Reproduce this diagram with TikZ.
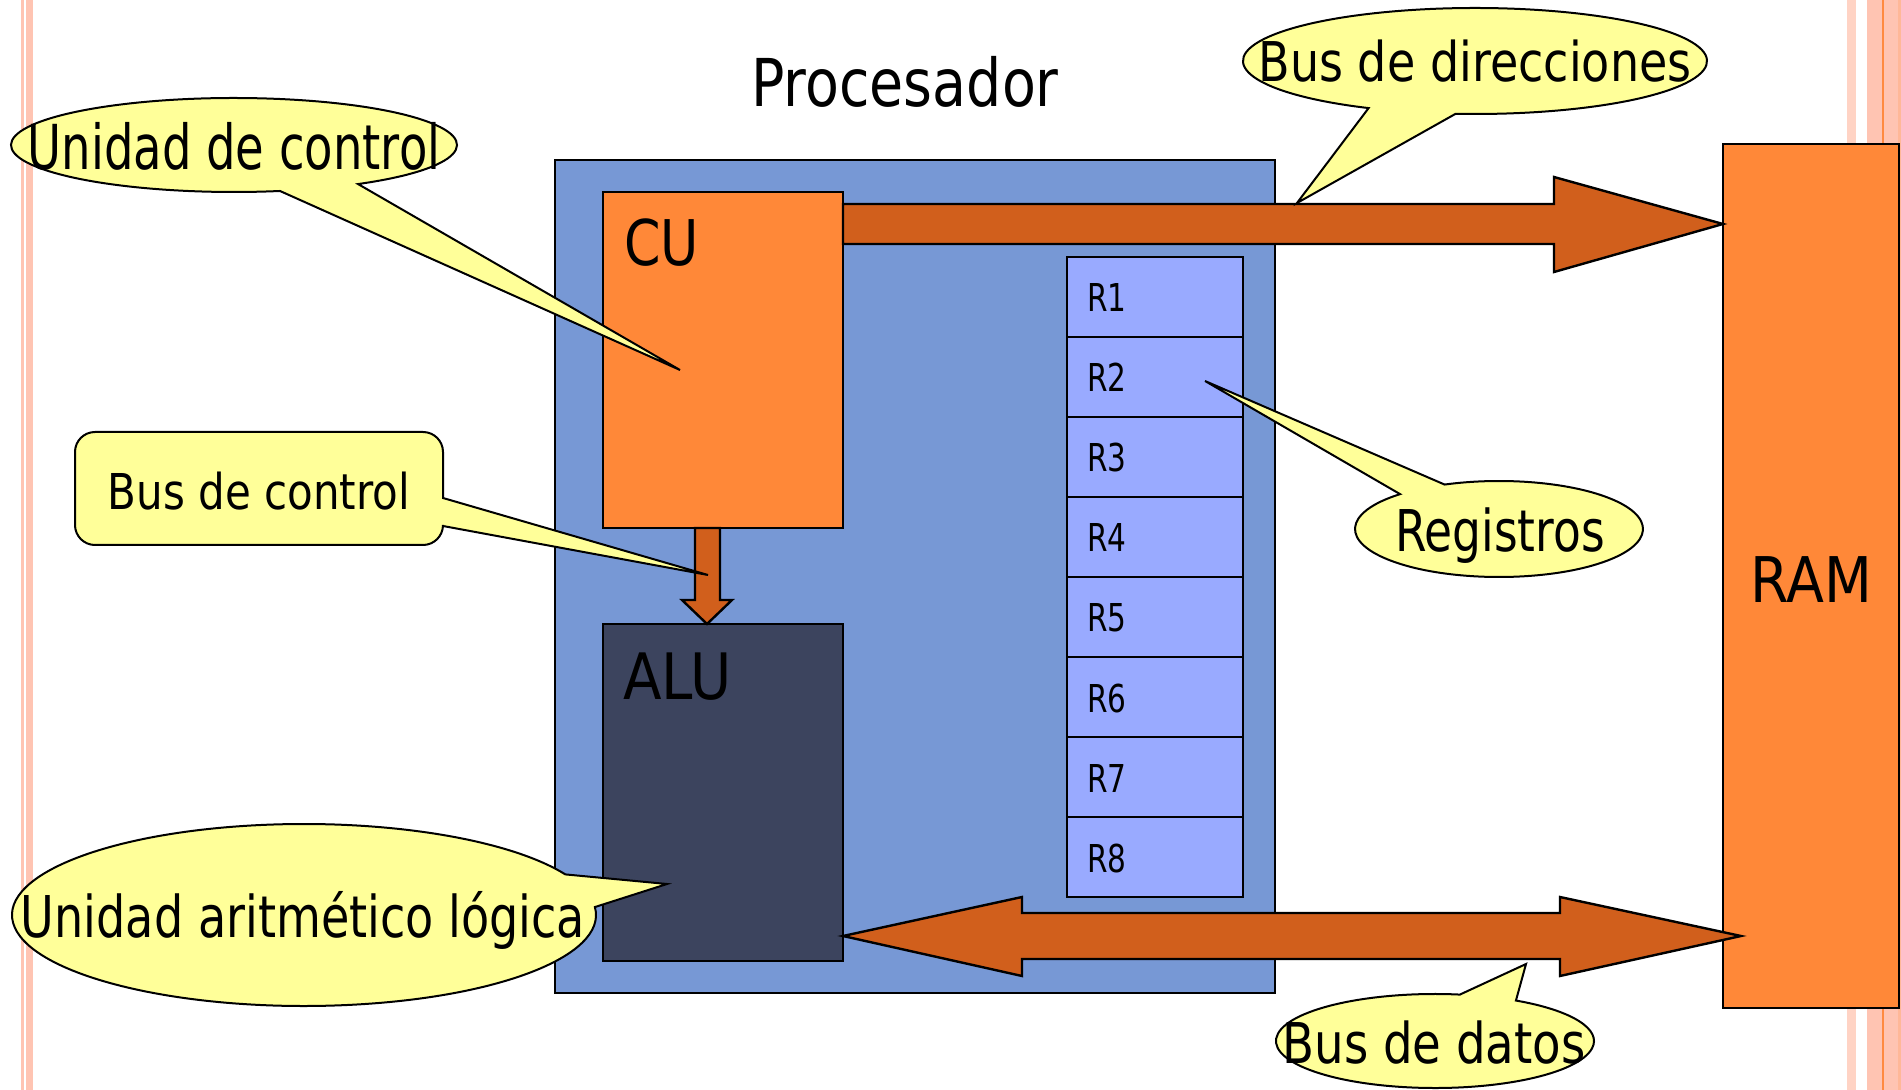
\documentclass[tikz,border=0pt]{standalone}
\usepackage{fontspec}
\setmainfont{DejaVu Sans}
\usepackage{graphicx}
\usetikzlibrary{calc}
\definecolor{procblue}{RGB}{119,152,213}
\definecolor{cuorange}{RGB}{255,136,56}
\definecolor{aludark}{RGB}{60,68,94}
\definecolor{regblue}{RGB}{153,170,255}
\definecolor{busorange}{RGB}{209,95,28}
\definecolor{callyellow}{RGB}{255,255,153}
\definecolor{stripe}{RGB}{255,196,178}
\definecolor{stripelight}{RGB}{255,211,196}
\definecolor{stripedark}{RGB}{255,184,152}
\definecolor{stripeline}{RGB}{255,138,64}
\newcommand{\txt}[3]{{\fontsize{#1}{#1}\selectfont\scalebox{#2}[1]{#3}}}
\begin{document}
\begin{tikzpicture}[x=0.5pt,y=-0.5pt,
  box/.style={draw=black,line width=1.2pt,inner sep=0pt,outer sep=0pt},
  bus/.style={draw=black,line width=1.2pt,fill=busorange,line join=miter},
  callout/.style={draw=black,line width=1pt,fill=callyellow,line join=miter},
  lbl/.style={inner sep=0pt,outer sep=0pt,text=black}]
\useasboundingbox (0,0) rectangle (1901,1090);
% page stripes
\fill[stripe] (21,0) rectangle (24,1090);
\fill[stripe] (26,0) rectangle (33,1090);
\fill[stripelight] (1847,0) rectangle (1856,1090);
\fill[stripe] (1867,0) rectangle (1898,1090);
\fill[stripeline] (1882,0) rectangle (1884,1090);
\fill[stripedark] (1898,0) rectangle (1901,1090);
% boxes
\node[box,fill=procblue,minimum width=360pt,minimum height=416.5pt] (proc) at (915,576.5) {};
\node[box,fill=cuorange,minimum width=120pt,minimum height=168pt] (cu) at (723,360) {};
\node[box,fill=aludark,minimum width=120pt,minimum height=168.5pt] (alu) at (723,792.5) {};
\foreach \i in {1,...,8}{
  \node[box,fill=regblue,minimum width=88pt,minimum height=40pt] (r\i) at (1155,{297+80*(\i-1)}) {};
  \node[lbl,anchor=base west] (rl\i) at ($(r\i.west)+(20,15)$) {\txt{19.2pt}{0.77}{R\i}};
}
\node[box,fill=cuorange,minimum width=88pt,minimum height=432pt] (ram) at (1811,576) {};
% texts in boxes
\node[lbl,anchor=base] (title) at (905,107) {\txt{33pt}{0.84}{Procesador}};
\node[lbl,anchor=base west] (cut) at ($(cu.north west)+(21,74)$) {\txt{31.5pt}{0.83}{CU}};
\node[lbl,anchor=base west] (alut) at ($(alu.north west)+(20,75)$) {\txt{32pt}{0.88}{ALU}};
\node[lbl,anchor=base] (ramt) at ($(ram.center)+(0,27)$) {\txt{31.5pt}{0.88}{RAM}};
% address bus
\path[bus] ($(cu.north east)+(0,12)$) -- ($(ram.north west)+(-169,60)$) -- ($(ram.north west)+(-169,33)$)
  -- ($(ram.north west)+(0,80)$) -- ($(ram.north west)+(-169,128)$) -- ($(ram.north west)+(-169,100)$)
  -- ($(cu.north east)+(0,52)$) -- cycle;
% control bus
\path[bus] ($(cu.south)+(-28,0)$) -- ($(cu.south)+(-3,0)$) -- ($(cu.south)+(-3,72)$) -- ($(cu.south)+(9,72)$)
  -- ($(alu.north)+(-16,0)$) -- ($(cu.south)+(-41,72)$) -- ($(cu.south)+(-28,72)$) -- cycle;
% data bus
\path[bus] ($(alu.south east)+(0,-25)$) -- ($(alu.south east)+(179,-64)$) -- ($(alu.south east)+(179,-48)$)
  -- ($(ram.south west)+(-163,-95)$) -- ($(ram.south west)+(-163,-111)$) -- ($(ram.south west)+(18,-72)$)
  -- ($(ram.south west)+(-163,-32)$) -- ($(ram.south west)+(-163,-49)$) -- ($(alu.south east)+(179,-2)$)
  -- ($(alu.south east)+(179,15)$) -- cycle;
% callouts
\coordinate (ucC) at (234,145);
\coordinate (ucTip) at (680,370);
\path[callout] ($(ucC)+(78.1:223 and 47)$) -- (ucTip) -- ($(ucC)+(56.2:223 and 47)$)
  arc[start angle=56.2,end angle=-281.9,x radius=223,y radius=47] -- cycle;
\node[lbl,anchor=base] (uct) at (234,170) {\txt{31pt}{0.75}{Unidad de control}};

\coordinate (bcTip) at (708,575);
\path[callout] (443,498) -- (bcTip) -- (443,526) -- (443,525) arc[start angle=0,end angle=90,radius=20]
  -- (95,545) arc[start angle=90,end angle=180,radius=20] -- (75,452) arc[start angle=180,end angle=270,radius=20]
  -- (423,432) arc[start angle=270,end angle=360,radius=20] -- cycle;
\node[lbl,anchor=base] (bct) at (259,510) {\txt{24.7pt}{0.85}{Bus de control}};

\coordinate (bdC) at (1475,61);
\coordinate (bdTip) at (1297,203);
\path[callout] ($(bdC)+(94.8:232 and 53)$) -- (bdTip) -- ($(bdC)+(117.3:232 and 53)$)
  arc[start angle=117.3,end angle=454.8,x radius=232,y radius=53] -- cycle;
\node[lbl,anchor=base] (bdt) at (1475,82) {\txt{27.4pt}{0.84}{Bus de direcciones}};

\coordinate (rgC) at (1499,529);
\coordinate (rgTip) at (1205,381);
\path[callout] ($(rgC)+(247.8:144 and 48)$) -- (rgTip) -- ($(rgC)+(226.6:144 and 48)$)
  arc[start angle=226.6,end angle=-112.2,x radius=144,y radius=48] -- cycle;
\node[lbl,anchor=base] (rgt) at (1500,552) {\txt{28.8pt}{0.79}{Registros}};

\coordinate (ualC) at (304,915);
\coordinate (ualTip) at (667,884);
\path[callout] ($(ualC)+(-26.5:292 and 91)$) -- (ualTip) -- ($(ualC)+(-5:292 and 91)$)
  arc[start angle=-5,end angle=333.5,x radius=292,y radius=91] -- cycle;
\node[lbl,anchor=base] (ualt) at (303,937) {\txt{28.8pt}{0.80}{Unidad aritmético lógica}};

\coordinate (bdaC) at (1435,1041);
\coordinate (bdaTip) at (1526,964);
\path[callout] ($(bdaC)+(-59.4:159 and 47)$) -- (bdaTip) -- ($(bdaC)+(-81:159 and 47)$)
  arc[start angle=-81,end angle=-419.4,x radius=159,y radius=47] -- cycle;
\node[lbl,anchor=base] (bdat) at (1434,1063) {\txt{28.1pt}{0.83}{Bus de datos}};
\end{tikzpicture}
\end{document}
